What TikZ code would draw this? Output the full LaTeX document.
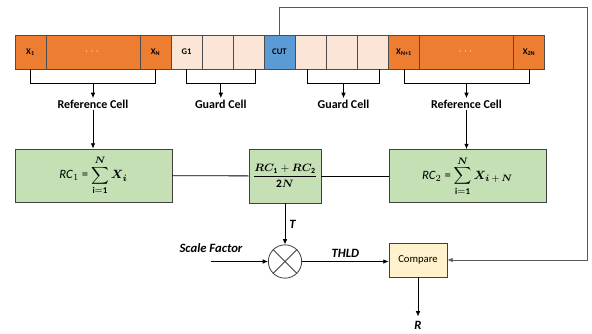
\documentclass[tikz,border=0pt]{standalone}
\usepackage{amsmath,bm}
\usepackage{fontspec}
\setmainfont{Carlito}
\usetikzlibrary{arrows.meta,positioning}
\definecolor{refOrange}{HTML}{ED7D31}
\definecolor{guardPeach}{HTML}{FBE5D6}
\definecolor{cutBlue}{HTML}{5B9BD5}
\definecolor{sumGreen}{HTML}{C5E0B4}
\definecolor{cmpYellow}{HTML}{FFF2CC}
\begin{document}
\begin{tikzpicture}[x=0.75pt, y=-0.75pt, line width=0.6pt,
  cellbox/.style={draw=black!70, minimum width=23.25pt, minimum height=25.5pt, inner sep=0pt, font=\fontsize{6.5}{7}\selectfont\bfseries},
  refcell/.style={cellbox, fill=refOrange},
  guardcell/.style={cellbox, fill=guardPeach},
  dotcell/.style={refcell, text=white!75!refOrange, font=\fontsize{9}{9}\selectfont\bfseries},
  sumbox/.style={draw=black!75, fill=sumGreen, minimum height=39.75pt, inner sep=1pt, font=\fontsize{9.5}{11}\selectfont},
  avgbox/.style={sumbox, minimum width=54pt, minimum height=40.5pt, font=\fontsize{8.5}{10}\selectfont},
  cmpbox/.style={draw=black!75, fill=cmpYellow, minimum width=43.5pt, minimum height=25.5pt, inner sep=1pt, font=\fontsize{8}{9}\selectfont},
  lbl/.style={inner sep=1pt, font=\fontsize{9}{10}\selectfont\bfseries},
  ilbl/.style={inner sep=1pt, font=\fontsize{9.5}{10}\selectfont\bfseries\itshape},
  arr/.style={-{Latex[length=4pt, width=3.5pt]}}]
\useasboundingbox (0,0) rectangle (592,334);

% Cell strip
\node[refcell] (x1) at (30.5,52) {X\textsubscript{1}};
\node[dotcell, minimum width=70.5pt] (dotsA) at (93,52) {$\cdots$};
\node[refcell] (xN) at (155.5,52) {X\textsubscript{N}};
\node[guardcell] (g1) at (186.5,52) {G1};
\node[guardcell] (g2) at (217.5,52) {};
\node[guardcell] (g3) at (248.5,52) {};
\node[cellbox, fill=cutBlue] (cut) at (279.5,52) {CUT};
\node[guardcell] (g4) at (310.5,52) {};
\node[guardcell] (g5) at (341.5,52) {};
\node[guardcell] (g6) at (372.5,52) {};
\node[refcell] (xN1) at (404,52) {X\textsubscript{N+1}};
\node[dotcell, minimum width=70pt] (dotsB) at (466.5,52) {$\cdots$};
\node[refcell] (x2N) at (529,52) {X\textsubscript{2N}};

% Brackets
\draw (x1.south) -- ++(0,14) -| node[pos=0.25, coordinate] (b1) {} (xN.south);
\draw (g1.south) -- ++(0,14) -| node[pos=0.25, coordinate] (b2) {} ([xshift=5pt]g3.south);
\draw ([xshift=-2pt]g4.south) -- ++(0,14) -| node[pos=0.25, coordinate] (b3) {} ([xshift=5pt]g6.south);
\draw (xN1.south) -- ++(0,14) -| node[pos=0.25, coordinate] (b4) {} (x2N.south);

\node[lbl, below=11pt of b1] (refL) {Reference Cell};
\node[lbl, below=11pt of b2] (guardL) {Guard Cell};
\node[lbl, below=11pt of b3] (guardR) {Guard Cell};
\node[lbl, below=11pt of b4] (refR) {Reference Cell};
\draw[arr] (b1) -- (refL);
\draw[arr] (b2) -- (guardL);
\draw[arr] (b3) -- (guardR);
\draw[arr] (b4) -- (refR);

% Sums
\node[sumbox, minimum width=117.75pt] (rc1) at (93.5,175.5) {\textit{RC}$_1$ = $\displaystyle\sum_{\mathbf{i=1}}^{\bm{N}} \bm{X}_{\bm{i}}$};
\node[avgbox] (avg) at (285,176) {$\dfrac{\bm{RC}_{\mathbf{1}}+\bm{RC}_{\mathbf{2}}}{\mathbf{2}\bm{N}}$};
\node[sumbox, minimum width=117.75pt] (rc2) at (467.5,176) {\textit{RC}$_2$ = $\displaystyle\sum_{\mathbf{i=1}}^{\bm{N}} \bm{X}_{\bm{i}\,+\,\bm{N}}$};
\draw[arr] (refL.south) -- (refL.south |- rc1.north);
\draw[arr] (refR.south) -- (refR.south |- rc2.north);
\draw (rc1) -- (avg);
\draw (avg) -- (rc2);

% Threshold and compare
\node[draw=black!75, circle, minimum size=25pt, inner sep=0pt] (mult) at (285,261.5) {};
\draw[black!75] (mult.north west) -- (mult.south east);
\draw[black!75] (mult.north east) -- (mult.south west);
\draw[arr] (avg) -- node[ilbl, right, xshift=2pt] {T} (mult);
\node[ilbl] (sf) at (211,248) {Scale Factor};
\draw[arr] (sf.south |- mult) -- (mult);
\node[cmpbox] (cmp) at (418,260) {Compare};
\draw[arr] (mult.east) -- node[ilbl, above, yshift=2pt] {THLD} (mult.east -| cmp.west);
\node[ilbl] (res) at (418,325) {R};
\draw[arr] (cmp) -- ([yshift=2pt]res.north);

% Feedback from CUT
\coordinate (fbCorner) at (587,7);
\draw[arr, draw=black!65] (cut.north) |- (fbCorner) |- (cmp.east);
\end{tikzpicture}
\end{document}
